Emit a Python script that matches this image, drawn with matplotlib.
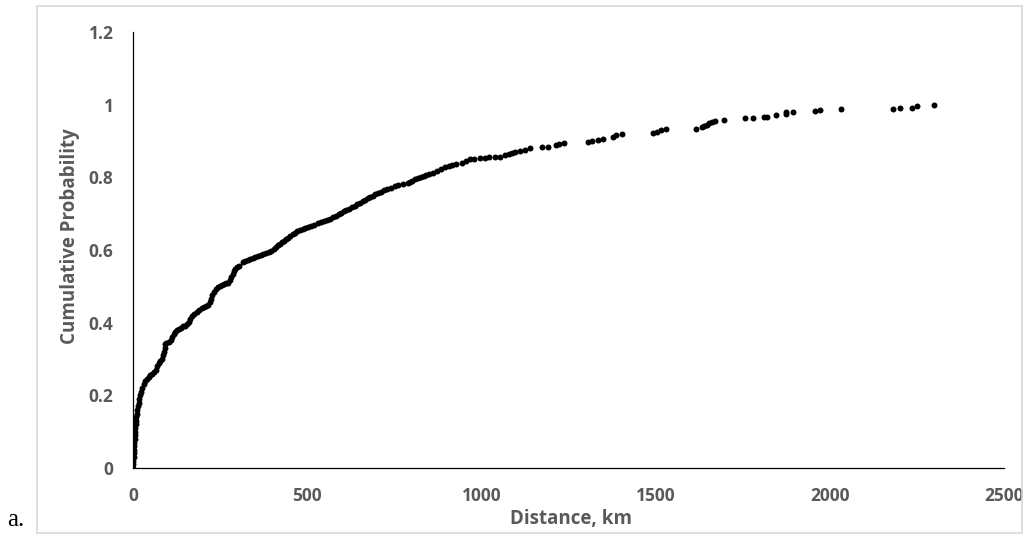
import matplotlib
matplotlib.use("Agg")
import matplotlib.pyplot as plt
from matplotlib.patches import Rectangle

# Distances (km)
distance_km = [
    0, 0.5, 1, 1.5, 2, 3, 3.5, 4, 5, 5.5, 6, 7, 8, 9, 10, 11, 12.5, 14, 16, 18,
    21, 24, 27, 31, 35, 40, 45, 50, 55, 60, 65, 70, 74, 78, 82, 86, 89, 91, 92, 96,
    102, 108, 112, 117, 121, 126, 132, 138, 144, 150, 156, 160, 165, 170, 176, 183, 190, 197, 204, 210,
    216, 220, 224, 228, 233, 238, 244, 250, 256, 262, 268, 274, 278, 282, 286, 290, 294, 298, 303,
    315, 322, 329, 336, 343, 350, 358, 366, 374, 382, 390, 397, 404, 410, 416, 422, 428, 434, 440,
    446, 452, 458, 465, 472, 479, 487, 495, 503, 510, 520, 530, 540, 548, 556, 566, 575, 582, 590,
    598, 605, 612, 620, 628, 636, 644, 652, 660, 667, 674, 681, 688, 696, 704, 712, 720, 730, 740,
    752, 762, 776, 788, 796, 802, 810, 818, 826, 834, 842, 850, 860, 872, 884, 896, 906, 915, 928,
    943, 955, 967, 980, 996, 1010, 1023, 1038, 1053, 1068, 1078, 1087, 1096, 1110, 1125, 1140, 1173,
    1192, 1214, 1224, 1238, 1307, 1317, 1336, 1348, 1379, 1386, 1403,
    1492, 1505, 1515, 1531, 1615, 1632, 1640, 1647, 1654, 1661, 1670, 1697, 1757, 1779, 1812, 1821,
    1846, 1873, 1875, 1894, 1958, 1973, 2032, 2181, 2201, 2235, 2250, 2298,
]

# Cumulative probabilities
cum_prob = [
    0.0, 0.01, 0.02, 0.03, 0.04, 0.05, 0.06, 0.07, 0.08, 0.09, 0.10, 0.11, 0.12, 0.13, 0.14, 0.15, 0.16, 0.17, 0.18, 0.19,
    0.20, 0.21, 0.22, 0.23, 0.24, 0.245, 0.25, 0.255, 0.26, 0.265, 0.27, 0.28, 0.29, 0.295, 0.30, 0.31, 0.32, 0.33, 0.34, 0.345,
    0.348, 0.352, 0.36, 0.368, 0.375, 0.38, 0.383, 0.386, 0.39, 0.392, 0.396, 0.403, 0.41, 0.418, 0.425, 0.43, 0.436, 0.44, 0.444, 0.447,
    0.45, 0.458, 0.466, 0.475, 0.485, 0.493, 0.497, 0.501, 0.504, 0.506, 0.508, 0.51, 0.517, 0.525, 0.533, 0.541, 0.548, 0.553, 0.557,
    0.566, 0.569, 0.572, 0.575, 0.578, 0.58, 0.583, 0.586, 0.589, 0.591, 0.594, 0.598, 0.603, 0.608, 0.613, 0.617, 0.621, 0.626, 0.63,
    0.633, 0.638, 0.643, 0.647, 0.652, 0.655, 0.658, 0.661, 0.664, 0.666, 0.669, 0.673, 0.677, 0.68, 0.683, 0.686, 0.69, 0.694, 0.698,
    0.702, 0.706, 0.71, 0.714, 0.718, 0.722, 0.726, 0.73, 0.734, 0.738, 0.742, 0.746, 0.75, 0.753, 0.757, 0.761, 0.764, 0.768, 0.772,
    0.776, 0.778, 0.781, 0.785, 0.788, 0.791, 0.795, 0.798, 0.801, 0.804, 0.807, 0.81, 0.813, 0.817, 0.822, 0.828, 0.831, 0.834, 0.836,
    0.839, 0.845, 0.85, 0.851, 0.852, 0.854, 0.855, 0.856, 0.857, 0.862, 0.865, 0.868, 0.871, 0.873, 0.875, 0.88, 0.883,
    0.884, 0.888, 0.891, 0.895, 0.898, 0.901, 0.904, 0.906, 0.910, 0.916, 0.919,
    0.922, 0.926, 0.930, 0.934, 0.934, 0.939, 0.941, 0.945, 0.949, 0.952, 0.955, 0.957, 0.962, 0.963, 0.965, 0.967,
    0.971, 0.975, 0.979, 0.980, 0.983, 0.985, 0.989, 0.989, 0.992, 0.992, 0.995, 0.998,
]

x_ticks = [0, 500, 1000, 1500, 2000, 2500]
x_tick_labels = ["0", "500", "1000", "1500", "2000", "2500"]
y_ticks = [0, 0.2, 0.4, 0.6, 0.8, 1.0, 1.2]
y_tick_labels = ["0", "0.2", "0.4", "0.6", "0.8", "1", "1.2"]

plt.rcParams["font.family"] = ["Open Sans", "DejaVu Sans"]
GRAY = "#595959"

W, H = 1034, 536
fig = plt.figure(figsize=(W / 100, H / 100), dpi=100)
fig.patch.set_facecolor("white")

# outer chart border
fig.add_artist(Rectangle((37 / W, 1 - 533 / H), (1022 - 37) / W, (533 - 6) / H,
                         transform=fig.transFigure, fill=False,
                         edgecolor="#d9d9d9", linewidth=1.2))

ax = fig.add_axes([133 / W, 1 - 468 / H, (1004 - 133) / W, (468 - 32) / H])
ax.plot(distance_km, cum_prob, linestyle="none", marker="o", markersize=4.3,
        color="black", markeredgewidth=0)

ax.set_xlim(0, 2500)
ax.set_ylim(0, 1.2)
ax.set_xticks(x_ticks)
ax.set_xticklabels(x_tick_labels)
ax.set_yticks(y_ticks)
ax.set_yticklabels(y_tick_labels)
ax.tick_params(axis="both", length=0, labelsize=12.5, labelcolor=GRAY)
ax.tick_params(axis="y", pad=14)
ax.tick_params(axis="x", pad=14)
for lab in ax.get_xticklabels() + ax.get_yticklabels():
    lab.set_fontweight("bold")

for s in ["top", "right"]:
    ax.spines[s].set_visible(False)
for s in ["left", "bottom"]:
    ax.spines[s].set_color("black")
    ax.spines[s].set_linewidth(0.9)

ax.set_xlabel("Distance, km", fontsize=13.5, fontweight="bold", color=GRAY)
ax.set_ylabel("Cumulative Probability", fontsize=13.5, fontweight="bold", color=GRAY)
# place axis titles at their positions in the reference (pixels -> axes fraction)
ax.xaxis.set_label_coords((571 - 133) / 871, -(519 - 468) / 436)
ax.xaxis.label.set_va("center")
ax.yaxis.set_label_coords(-(133 - 70) / 871, (468 - 236) / 436)
ax.yaxis.label.set_va("center")

fig.text(7 / W, 1 - 520 / H, "a.", fontsize=18, family="Liberation Serif",
         va="center", ha="left", color="black")

fig.savefig("out.png", dpi=100)
